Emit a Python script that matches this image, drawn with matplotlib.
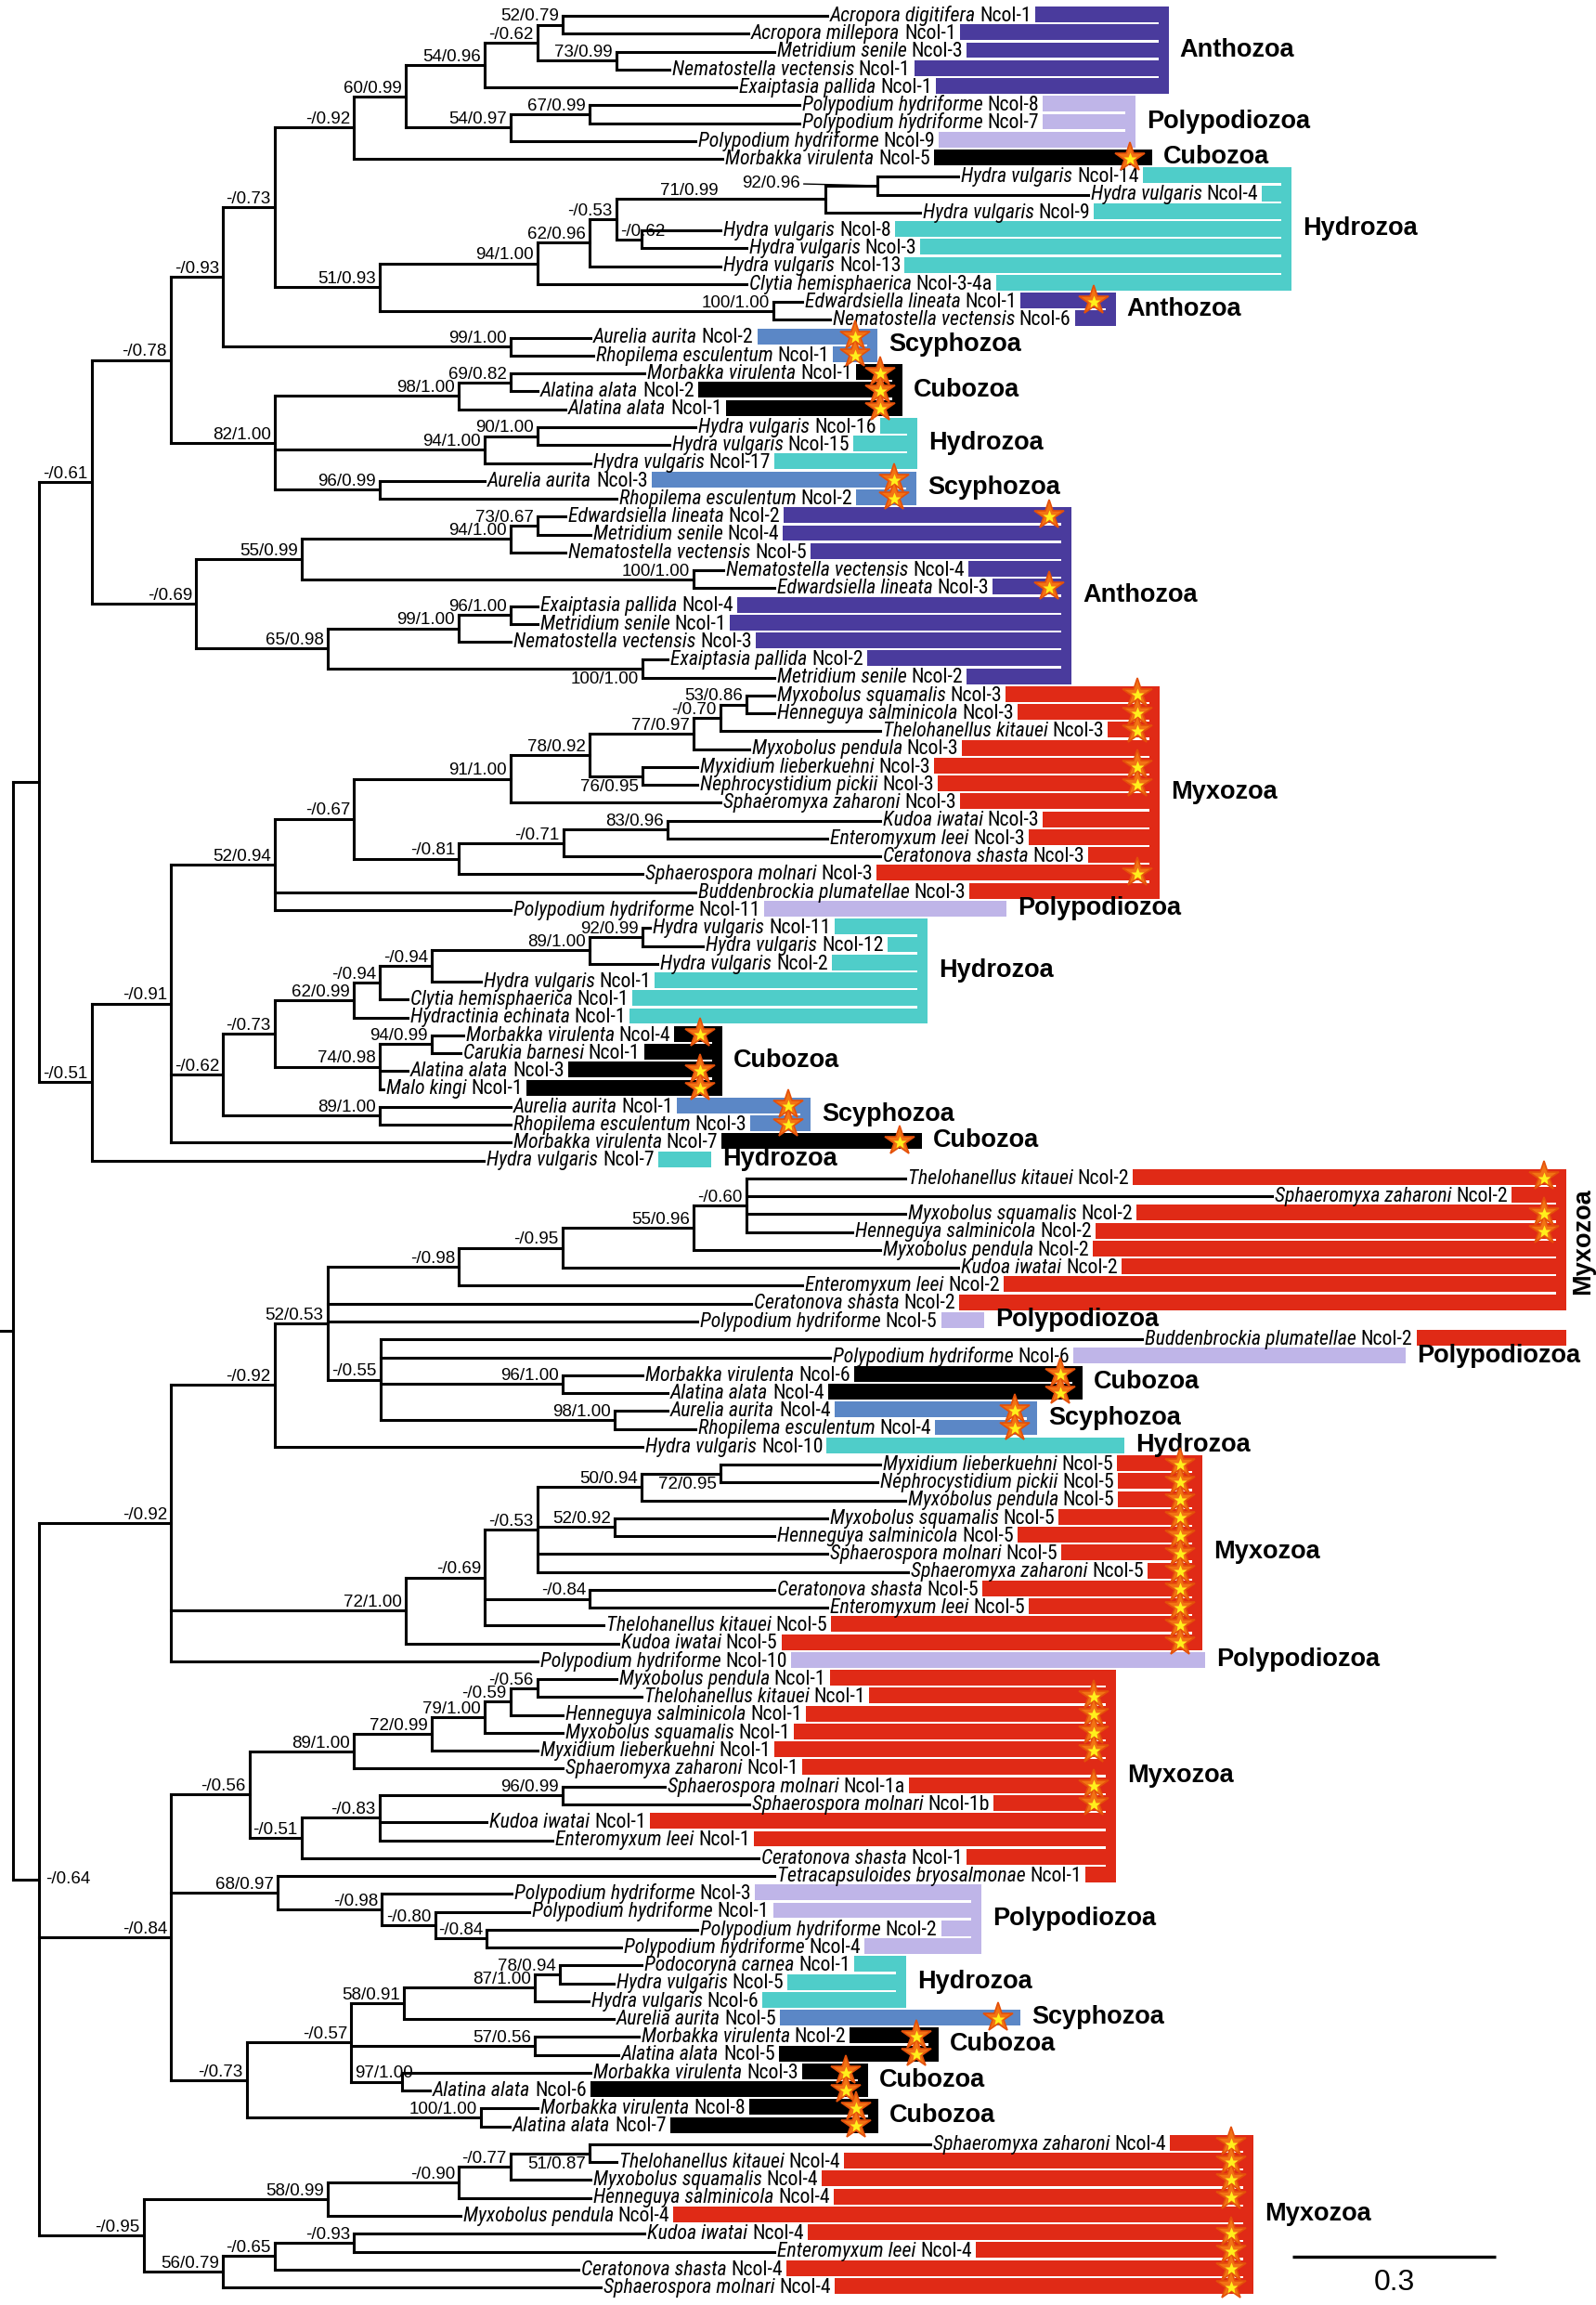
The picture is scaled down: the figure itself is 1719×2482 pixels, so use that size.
import os
import matplotlib
matplotlib.use("Agg")
import matplotlib.pyplot as plt
from matplotlib import font_manager as fm
from matplotlib.collections import LineCollection

# ---------------------------------------------------------------------------
# Ncol gene tree.  Newick pieces: the number after ':' is the distance of that
# node from the root (subst./site); internal labels are
# bootstrap / posterior probability ('-' = bootstrap < 50).
# ---------------------------------------------------------------------------
ANTHOZOA_A = ("(((Acropora digitifera Ncol-1:1.201,Acropora millepora Ncol-1:1.085)52/0.79:0.811,"
              "(Metridium senile Ncol-3:1.123,Nematostella vectensis Ncol-1:0.968)73/0.99:0.890)-/0.62:0.774,"
              "Exaiptasia pallida Ncol-1:1.067)54/0.96:0.696")
POLYPOD_A = ("((Polypodium hydriforme Ncol-8:1.160,Polypodium hydriforme Ncol-7:1.160)67/0.99:0.851,"
             "Polypodium hydriforme Ncol-9:1.007)54/0.97:0.734")
HYDRO_A = ("((((((Hydra vulgaris Ncol-14:1.395,Hydra vulgaris Ncol-4:1.586)92/0.96:1.275,"
           "Hydra vulgaris Ncol-9:1.338)71/0.99:1.199,"
           "(Hydra vulgaris Ncol-8:1.044,Hydra vulgaris Ncol-3:1.082)-/0.62:0.927)-/0.53:0.890,"
           "Hydra vulgaris Ncol-13:1.044)62/0.96:0.851,"
           "Clytia hemisphaerica Ncol-3-4a:1.082)94/1.00:0.774,"
           "(Edwardsiella lineata Ncol-1:1.164,Nematostella vectensis Ncol-6:1.205)100/1.00:1.122)51/0.93:0.541")
SCYPHO_A = "(Aurelia aurita Ncol-2:0.852,Rhopilema esculentum Ncol-1:0.856)99/1.00:0.734"
MIXED_A = ("(((Morbakka virulenta Ncol-1:0.932,Alatina alata Ncol-2:0.774)69/0.82:0.734,"
           "Alatina alata Ncol-1:0.815)98/1.00:0.658,"
           "((Hydra vulgaris Ncol-16:1.007,Hydra vulgaris Ncol-15:0.968)90/1.00:0.774,"
           "Hydra vulgaris Ncol-17:0.852)94/1.00:0.696,"
           "(Aurelia aurita Ncol-3:0.696,Rhopilema esculentum Ncol-2:0.890)96/0.99:0.541)82/1.00:0.386")
ANTHOZOA_B = ("((((Edwardsiella lineata Ncol-2:0.815,Metridium senile Ncol-4:0.852)73/0.67:0.774,"
              "Nematostella vectensis Ncol-5:0.815)94/1.00:0.734,"
              "(Nematostella vectensis Ncol-4:1.048,Edwardsiella lineata Ncol-3:1.123)100/1.00:1.004)55/0.99:0.426,"
              "(((Exaiptasia pallida Ncol-4:0.774,Metridium senile Ncol-1:0.774)96/1.00:0.734,"
              "Nematostella vectensis Ncol-3:0.734)99/1.00:0.658,"
              "(Exaiptasia pallida Ncol-2:0.966,Metridium senile Ncol-2:1.123)100/1.00:0.929)65/0.98:0.464)-/0.69:0.270")
MYXO_A = ("(((((((Myxobolus squamalis Ncol-3:1.123,Henneguya salminicola Ncol-3:1.123)53/0.86:1.082,"
          "Thelohanellus kitauei Ncol-3:1.279)-/0.70:1.044,"
          "Myxobolus pendula Ncol-3:1.086)77/0.97:1.004,"
          "(Myxidium lieberkuehni Ncol-3:1.010,Nephrocystidium pickii Ncol-3:1.010)76/0.95:0.929)78/0.92:0.851,"
          "Sphaeromyxa zaharoni Ncol-3:1.044)91/1.00:0.734,"
          "(((Kudoa iwatai Ncol-3:1.279,Enteromyxum leei Ncol-3:1.201)83/0.96:0.966,"
          "Ceratonova shasta Ncol-3:1.279)-/0.71:0.812,"
          "Sphaerospora molnari Ncol-3:0.929)-/0.81:0.658)-/0.67:0.503,"
          "Buddenbrockia plumatellae Ncol-3:1.007,"
          "Polypodium hydriforme Ncol-11:0.734)52/0.94:0.386")
MEDUSO_A = ("(((((((Hydra vulgaris Ncol-11:0.940,Hydra vulgaris Ncol-12:1.018)92/0.99:0.929,"
            "Hydra vulgaris Ncol-2:0.951)89/1.00:0.851,"
            "Hydra vulgaris Ncol-1:0.690)-/0.94:0.618,"
            "Clytia hemisphaerica Ncol-1:0.582)-/0.94:0.541,"
            "Hydractinia echinata Ncol-1:0.582)62/0.99:0.503,"
            "((Morbakka virulenta Ncol-4:0.664,Carukia barnesi Ncol-1:0.660)94/0.99:0.618,"
            "Alatina alata Ncol-3:0.582,Malo kingi Ncol-1:0.547)74/0.98:0.541)-/0.73:0.386,"
            "(Aurelia aurita Ncol-1:0.734,Rhopilema esculentum Ncol-3:0.734)89/1.00:0.541)-/0.62:0.310")
MYXO_B = ("(((((Thelohanellus kitauei Ncol-2:1.316,Sphaeromyxa zaharoni Ncol-2:1.858,"
          "Myxobolus squamalis Ncol-2:1.316,Henneguya salminicola Ncol-2:1.238)-/0.60:1.082,"
          "Myxobolus pendula Ncol-2:1.279)55/0.96:1.004,"
          "Kudoa iwatai Ncol-2:1.395)-/0.95:0.811,"
          "Enteromyxum leei Ncol-2:1.164)-/0.98:0.658,"
          "Ceratonova shasta Ncol-2:1.089,Polypodium hydriforme Ncol-5:1.010,"
          "(Buddenbrockia plumatellae Ncol-2:1.666,Polypodium hydriforme Ncol-6:1.205,"
          "(Morbakka virulenta Ncol-6:0.929,Alatina alata Ncol-4:0.966)96/1.00:0.811,"
          "(Aurelia aurita Ncol-4:0.966,Rhopilema esculentum Ncol-4:1.007)98/1.00:0.888)-/0.55:0.542)52/0.53:0.464")
MYXO_C = ("(((((Myxidium lieberkuehni Ncol-5:1.279,Nephrocystidium pickii Ncol-5:1.275)72/0.95:1.044,"
          "Myxobolus pendula Ncol-5:1.316)50/0.94:0.927,"
          "(Myxobolus squamalis Ncol-5:1.201,Henneguya salminicola Ncol-5:1.123)52/0.92:0.888,"
          "Sphaerospora molnari Ncol-5:1.201,Sphaeromyxa zaharoni Ncol-5:1.321)-/0.53:0.774,"
          "(Ceratonova shasta Ncol-5:1.123,Enteromyxum leei Ncol-5:1.201)-/0.84:0.851,"
          "Thelohanellus kitauei Ncol-5:0.871)-/0.69:0.696,"
          "Kudoa iwatai Ncol-5:0.893)72/1.00:0.579")
MYXO_D = ("((((((Myxobolus pendula Ncol-1:0.890,Thelohanellus kitauei Ncol-1:0.927)-/0.56:0.774,"
          "Henneguya salminicola Ncol-1:0.811)-/0.59:0.734,"
          "Myxobolus squamalis Ncol-1:0.811)79/1.00:0.696,"
          "Myxidium lieberkuehni Ncol-1:0.774)72/0.99:0.618,"
          "Sphaeromyxa zaharoni Ncol-1:0.811)89/1.00:0.503,"
          "(((Sphaerospora molnari Ncol-1a:0.962,Sphaerospora molnari Ncol-1b:1.086)96/0.99:0.811,"
          "Kudoa iwatai Ncol-1:0.699,Enteromyxum leei Ncol-1:0.796)-/0.83:0.541,"
          "Ceratonova shasta Ncol-1:1.100)-/0.51:0.426)-/0.56:0.349")
POLYPOD_B = ("(Tetracapsuloides bryosalmonae Ncol-1:1.123,"
             "(Polypodium hydriforme Ncol-3:0.736,"
             "(Polypodium hydriforme Ncol-1:0.762,"
             "(Polypodium hydriforme Ncol-2:1.010,Polypodium hydriforme Ncol-4:0.897)-/0.84:0.699)-/0.80:0.623)"
             "-/0.98:0.544)68/0.97:0.390")
MEDUSO_B = ("(((((Podocoryna carnea Ncol-1:0.927,Hydra vulgaris Ncol-5:0.886)78/0.94:0.807,"
            "Hydra vulgaris Ncol-6:0.849)87/1.00:0.770,"
            "Aurelia aurita Ncol-5:0.886)58/0.91:0.577,"
            "(Morbakka virulenta Ncol-2:0.923,Alatina alata Ncol-5:0.893)57/0.56:0.770,"
            "(Morbakka virulenta Ncol-3:0.852,Alatina alata Ncol-6:0.615)97/1.00:0.574)-/0.57:0.499,"
            "(Morbakka virulenta Ncol-8:0.774,Alatina alata Ncol-7:0.733)100/1.00:0.690)-/0.73:0.345")
MYXO_E = ("(((((Sphaeromyxa zaharoni Ncol-4:1.353,Thelohanellus kitauei Ncol-4:0.890)51/0.87:0.851,"
          "Myxobolus squamalis Ncol-4:0.852)-/0.77:0.734,"
          "Henneguya salminicola Ncol-4:0.852)-/0.90:0.658,"
          "Myxobolus pendula Ncol-4:0.660)58/0.99:0.464,"
          "(((Kudoa iwatai Ncol-4:0.932,Enteromyxum leei Ncol-4:1.123)-/0.93:0.503,"
          "Ceratonova shasta Ncol-4:0.834)-/0.65:0.386,"
          "Sphaerospora molnari Ncol-4:0.867)56/0.79:0.310)-/0.95:0.193")
BACKBONE = ("(((((((({anth_a},{poly_a})60/0.99:0.579,Morbakka virulenta Ncol-5:1.047)-/0.92:0.503,"
            "{hydro_a})-/0.73:0.386,{scypho_a})-/0.93:0.310,{mixed_a})-/0.78:0.233,{anth_b})-/0.61:0.116,"
            "(({myxo_a},{meduso_a},Morbakka virulenta Ncol-7:0.734)-/0.91:0.233,"
            "Hydra vulgaris Ncol-7:0.695)-/0.51:0.116):0.038,"
            "((({myxo_b},Hydra vulgaris Ncol-10:0.929)-/0.92:0.386,{myxo_c},"
            "Polypodium hydriforme Ncol-10:0.774)-/0.92:0.233,"
            "({myxo_d},{poly_b},{meduso_b})-/0.84:0.233,{myxo_e})-/0.64:0.038);")
TREE = BACKBONE.format(anth_a=ANTHOZOA_A, poly_a=POLYPOD_A, hydro_a=HYDRO_A, scypho_a=SCYPHO_A,
                       mixed_a=MIXED_A, anth_b=ANTHOZOA_B, myxo_a=MYXO_A, meduso_a=MEDUSO_A,
                       myxo_b=MYXO_B, myxo_c=MYXO_C, myxo_d=MYXO_D, poly_b=POLYPOD_B,
                       meduso_b=MEDUSO_B, myxo_e=MYXO_E)

CLADE_COLOURS = {"Anthozoa": "#4a3b9d", "Polypodiozoa": "#bfb5e8", "Cubozoa": "#000000",
                 "Hydrozoa": "#4fcdc9", "Scyphozoa": "#5b87c6", "Myxozoa": "#e02a16"}

# coloured taxon blocks: first leaf, last leaf, clade
GROUP_FIRST = ["Acropora digitifera Ncol-1", "Polypodium hydriforme Ncol-8", "Morbakka virulenta Ncol-5",
               "Hydra vulgaris Ncol-14", "Edwardsiella lineata Ncol-1", "Aurelia aurita Ncol-2",
               "Morbakka virulenta Ncol-1", "Hydra vulgaris Ncol-16", "Aurelia aurita Ncol-3",
               "Edwardsiella lineata Ncol-2", "Myxobolus squamalis Ncol-3", "Polypodium hydriforme Ncol-11",
               "Hydra vulgaris Ncol-11", "Morbakka virulenta Ncol-4", "Aurelia aurita Ncol-1",
               "Morbakka virulenta Ncol-7", "Hydra vulgaris Ncol-7", "Thelohanellus kitauei Ncol-2",
               "Polypodium hydriforme Ncol-5", "Buddenbrockia plumatellae Ncol-2", "Polypodium hydriforme Ncol-6",
               "Morbakka virulenta Ncol-6", "Aurelia aurita Ncol-4", "Hydra vulgaris Ncol-10",
               "Myxidium lieberkuehni Ncol-5", "Polypodium hydriforme Ncol-10", "Myxobolus pendula Ncol-1",
               "Polypodium hydriforme Ncol-3", "Podocoryna carnea Ncol-1", "Aurelia aurita Ncol-5",
               "Morbakka virulenta Ncol-2", "Morbakka virulenta Ncol-3", "Morbakka virulenta Ncol-8",
               "Sphaeromyxa zaharoni Ncol-4"]
GROUP_LAST = ["Exaiptasia pallida Ncol-1", "Polypodium hydriforme Ncol-9", "Morbakka virulenta Ncol-5",
              "Clytia hemisphaerica Ncol-3-4a", "Nematostella vectensis Ncol-6", "Rhopilema esculentum Ncol-1",
              "Alatina alata Ncol-1", "Hydra vulgaris Ncol-17", "Rhopilema esculentum Ncol-2",
              "Metridium senile Ncol-2", "Buddenbrockia plumatellae Ncol-3", "Polypodium hydriforme Ncol-11",
              "Hydractinia echinata Ncol-1", "Malo kingi Ncol-1", "Rhopilema esculentum Ncol-3",
              "Morbakka virulenta Ncol-7", "Hydra vulgaris Ncol-7", "Ceratonova shasta Ncol-2",
              "Polypodium hydriforme Ncol-5", "Buddenbrockia plumatellae Ncol-2", "Polypodium hydriforme Ncol-6",
              "Alatina alata Ncol-4", "Rhopilema esculentum Ncol-4", "Hydra vulgaris Ncol-10",
              "Kudoa iwatai Ncol-5", "Polypodium hydriforme Ncol-10", "Tetracapsuloides bryosalmonae Ncol-1",
              "Polypodium hydriforme Ncol-4", "Hydra vulgaris Ncol-6", "Aurelia aurita Ncol-5",
              "Alatina alata Ncol-5", "Alatina alata Ncol-6", "Alatina alata Ncol-7",
              "Sphaerospora molnari Ncol-4"]
GROUP_CLADE = ["Anthozoa", "Polypodiozoa", "Cubozoa", "Hydrozoa", "Anthozoa", "Scyphozoa", "Cubozoa",
               "Hydrozoa", "Scyphozoa", "Anthozoa", "Myxozoa", "Polypodiozoa", "Hydrozoa", "Cubozoa",
               "Scyphozoa", "Cubozoa", "Hydrozoa", "Myxozoa", "Polypodiozoa", "Myxozoa", "Polypodiozoa",
               "Cubozoa", "Scyphozoa", "Hydrozoa", "Myxozoa", "Polypodiozoa", "Myxozoa", "Polypodiozoa",
               "Hydrozoa", "Scyphozoa", "Cubozoa", "Cubozoa", "Cubozoa", "Myxozoa"]

# leaves marked with a star
STARRED = ["Morbakka virulenta Ncol-5", "Edwardsiella lineata Ncol-1", "Aurelia aurita Ncol-2",
           "Rhopilema esculentum Ncol-1", "Morbakka virulenta Ncol-1", "Alatina alata Ncol-2",
           "Alatina alata Ncol-1", "Aurelia aurita Ncol-3", "Rhopilema esculentum Ncol-2",
           "Edwardsiella lineata Ncol-2", "Edwardsiella lineata Ncol-3", "Myxobolus squamalis Ncol-3",
           "Henneguya salminicola Ncol-3", "Thelohanellus kitauei Ncol-3", "Myxidium lieberkuehni Ncol-3",
           "Nephrocystidium pickii Ncol-3", "Sphaerospora molnari Ncol-3", "Morbakka virulenta Ncol-4",
           "Alatina alata Ncol-3", "Malo kingi Ncol-1", "Aurelia aurita Ncol-1", "Rhopilema esculentum Ncol-3",
           "Morbakka virulenta Ncol-7", "Thelohanellus kitauei Ncol-2", "Myxobolus squamalis Ncol-2",
           "Henneguya salminicola Ncol-2", "Morbakka virulenta Ncol-6", "Alatina alata Ncol-4",
           "Aurelia aurita Ncol-4", "Rhopilema esculentum Ncol-4", "Myxidium lieberkuehni Ncol-5",
           "Nephrocystidium pickii Ncol-5", "Myxobolus pendula Ncol-5", "Myxobolus squamalis Ncol-5",
           "Henneguya salminicola Ncol-5", "Sphaerospora molnari Ncol-5", "Sphaeromyxa zaharoni Ncol-5",
           "Ceratonova shasta Ncol-5", "Enteromyxum leei Ncol-5", "Thelohanellus kitauei Ncol-5",
           "Kudoa iwatai Ncol-5", "Thelohanellus kitauei Ncol-1", "Henneguya salminicola Ncol-1",
           "Myxobolus squamalis Ncol-1", "Myxidium lieberkuehni Ncol-1", "Sphaerospora molnari Ncol-1a",
           "Sphaerospora molnari Ncol-1b", "Aurelia aurita Ncol-5", "Morbakka virulenta Ncol-2",
           "Alatina alata Ncol-5", "Morbakka virulenta Ncol-3", "Alatina alata Ncol-6",
           "Morbakka virulenta Ncol-8", "Alatina alata Ncol-7", "Sphaeromyxa zaharoni Ncol-4",
           "Thelohanellus kitauei Ncol-4", "Myxobolus squamalis Ncol-4", "Henneguya salminicola Ncol-4",
           "Kudoa iwatai Ncol-4", "Enteromyxum leei Ncol-4", "Ceratonova shasta Ncol-4",
           "Sphaerospora molnari Ncol-4"]
SCALE_BAR = 0.3

# ---- layout (pixels of the 1719x2482 output) -----------------------------
W, H, DPI = 1719, 2482, 100
ROOT_PX, UNIT_PX = 14, 730          # x of the root, pixels per subst./site
TOP_PX, ROW_PX = 17, 19.26          # y of first leaf, leaf spacing
# right end of each coloured block, in tree units
GROUP_EDGE = [1.705, 1.656, 1.681, 1.886, 1.627, 1.275, 1.312, 1.334, 1.333, 1.562, 1.692, 1.466,
              1.349, 1.047, 1.177, 1.341, 1.030, 2.292, 1.433, 2.292, 2.055, 1.578, 1.511, 1.640,
              1.755, 1.759, 1.627, 1.429, 1.318, 1.486, 1.366, 1.262, 1.277, 1.830]
NO_GROUP_LABEL = ["Buddenbrockia plumatellae Ncol-2"]
VERTICAL_GROUP_LABEL = ["Thelohanellus kitauei Ncol-2"]
# support labels not drawn in the default spot, keyed by (label, first leaf below node)
SUPPORT_BELOW = [("100/1.00", "Exaiptasia pallida Ncol-2"), ("76/0.95", "Myxidium lieberkuehni Ncol-3"),
                 ("51/0.87", "Sphaeromyxa zaharoni Ncol-4"), ("72/0.95", "Myxidium lieberkuehni Ncol-5")]
SUPPORT_AT_PARENT = [("-/0.62", "Hydra vulgaris Ncol-8"), ("97/1.00", "Morbakka virulenta Ncol-3")]
SUPPORT_RIGHT = [("-/0.64", "Thelohanellus kitauei Ncol-2")]
SUPPORT_LEADER = [("92/0.96", "Hydra vulgaris Ncol-14")]
SUPPORT_SHIFT = {("71/0.99", "Hydra vulgaris Ncol-14"): -80}
LEAF_LABEL_PX = 216                 # width of "Acropora digitifera Ncol-1" in the figure

SANS = "Liberation Sans"

# a narrow face for the leaf labels (italic species + upright gene name)
_files = {}
for p in fm.findSystemFonts() + [f.fname for f in fm.fontManager.ttflist]:
    _files.setdefault(os.path.splitext(os.path.basename(p))[0].lower(), p)
NARROW_FACES = [("liberationsansnarrow-italic", "liberationsansnarrow-regular"),
                ("robotocondensed-italic", "robotocondensed-regular"),
                ("notosans-condenseditalic", "notosans-condensed"),
                ("dejavusanscondensed-oblique", "dejavusanscondensed")]
FP_IT = fm.FontProperties(family=SANS, style="italic")
FP_UP = fm.FontProperties(family=SANS)
for it, up in NARROW_FACES:
    if it in _files and up in _files:
        FP_IT = fm.FontProperties(fname=_files[it])
        FP_UP = fm.FontProperties(fname=_files[up])
        break


def parse(s):
    pos = 0

    def node():
        nonlocal pos
        kids = []
        if s[pos] == "(":
            pos += 1
            kids.append(node())
            while s[pos] == ",":
                pos += 1
                kids.append(node())
            pos += 1
        start = pos
        while s[pos] not in ",():;":
            pos += 1
        name = s[start:pos].strip()
        depth = 0.0
        if s[pos] == ":":
            pos += 1
            start = pos
            while s[pos] not in ",();":
                pos += 1
            depth = float(s[start:pos])
        return {"name": name, "x": depth, "kids": kids}

    return node()


root = parse(TREE)
leaves, internal = [], []


def place(n, parent=None):
    n["parent"] = parent
    if not n["kids"]:
        n["y"] = len(leaves)
        n["first"] = n["name"]
        leaves.append(n)
    else:
        for k in n["kids"]:
            place(k, n)
        n["y"] = (n["kids"][0]["y"] + n["kids"][-1]["y"]) / 2
        n["first"] = n["kids"][0]["first"]
        internal.append(n)


place(root)
row = {lf["name"]: lf["y"] for lf in leaves}

fig = plt.figure(figsize=(W / DPI, H / DPI), dpi=DPI)
ax = fig.add_axes([0, 0, 1, 1])
ax.set_xlim(-ROOT_PX / UNIT_PX, (W - ROOT_PX) / UNIT_PX)
ax.set_ylim((H - TOP_PX) / ROW_PX, -TOP_PX / ROW_PX)
ax.axis("off")
px = 1 / UNIT_PX
r = fig.canvas.get_renderer()
inv = ax.transData.inverted()


def right_end(t):
    bb = t.get_window_extent(r)
    return inv.transform((bb.x1, bb.y0))[0]


# size the leaf font so label widths match the original
_probe = ax.text(0, 0, "Acropora digitifera Ncol-1", fontproperties=FP_IT, size=10)
LEAF_SIZE = 10 * LEAF_LABEL_PX / _probe.get_window_extent(r).width
_probe.remove()

# ---- branches ----
segs = [[(-ROOT_PX * px, root["y"]), (0, root["y"])]]
for n in internal + leaves:
    if n["parent"] is not None:
        segs.append([(n["parent"]["x"], n["y"]), (n["x"], n["y"])])
    if n["kids"]:
        segs.append([(n["x"], n["kids"][0]["y"]), (n["x"], n["kids"][-1]["y"])])
ax.add_collection(LineCollection(segs, colors="black", linewidths=2.2, capstyle="projecting", zorder=3))

# ---- leaf labels ----
label_end = {}
for lf in leaves:
    sp, num = lf["name"].rsplit(" Ncol", 1)
    y = lf["y"] + 0.3
    t1 = ax.text(lf["x"] + 3 * px, y, sp, fontproperties=FP_IT, size=LEAF_SIZE,
                 ha="left", va="baseline", zorder=4)
    x2 = right_end(t1) + 0.22 * LEAF_SIZE / 72 * DPI * px
    t2 = ax.text(x2, y, "Ncol" + num, fontproperties=FP_UP, size=LEAF_SIZE, ha="left", va="baseline", zorder=4)
    label_end[lf["name"]] = right_end(t2)

# ---- coloured blocks, stars, clade names ----
COL_W = 11 * px
for first, last, clade, edge in zip(GROUP_FIRST, GROUP_LAST, GROUP_CLADE, GROUP_EDGE):
    i0, i1 = row[first], row[last]
    col = CLADE_COLOURS[clade]
    for lf in leaves[i0:i1 + 1]:
        x0 = label_end[lf["name"]] + 4 * px
        ax.barh(lf["y"] - 0.08, max(edge - x0, 0), left=x0, height=0.88, color=col, lw=0, zorder=1)
        if lf["name"] in STARRED:
            ax.plot(edge - 24 * px, lf["y"] - 0.08, marker="*", ms=24, mfc="#f27314", mec="#e4500a",
                    mew=1.2, zorder=5)
            ax.plot(edge - 24 * px, lf["y"] - 0.02, marker="*", ms=10, mfc="#fff01c", mec="none", zorder=6)
    ax.barh((i0 + i1) / 2 - 0.08, COL_W, left=edge - COL_W, height=i1 - i0 + 0.88, color=col, lw=0, zorder=1)
    if first in NO_GROUP_LABEL:
        continue
    if first in VERTICAL_GROUP_LABEL:
        ax.text(edge + 5 * px, (i0 + i1) / 2, clade, family=SANS, weight="bold", size=19.5,
                rotation=90, ha="left", va="center")
    else:
        ax.text(edge + 12 * px, (i0 + i1) / 2 - 0.1, clade, family=SANS, weight="bold", size=19.5,
                ha="left", va="center")

# ---- support values ----
for n in internal:
    if not n["name"]:
        continue
    key = (n["name"], n["first"])
    kw = dict(family=SANS, size=13.5, textcoords="offset points", zorder=4)
    if key in SUPPORT_BELOW:
        ax.annotate(n["name"], (n["x"], n["y"]), xytext=(-3, -2.5), ha="right", va="top", **kw)
    elif key in SUPPORT_AT_PARENT:
        ax.annotate(n["name"], (n["parent"]["x"], n["y"]), xytext=(3, 3), ha="left", va="baseline", **kw)
    elif key in SUPPORT_RIGHT:
        ax.annotate(n["name"], (n["x"], n["y"]), xytext=(5, 0), ha="left", va="center", **kw)
    elif key in SUPPORT_LEADER:
        ax.annotate(n["name"], (n["x"], n["y"]), xytext=(-60, 2), ha="right", va="center",
                    arrowprops=dict(arrowstyle="-", lw=1.0, color="black", shrinkA=1, shrinkB=0), **kw)
    else:
        dx = SUPPORT_SHIFT.get(key, 0)
        ax.annotate(n["name"], (n["x"], n["y"]), xytext=(-3 + dx, 3), ha="right", va="baseline", **kw)

# ---- scale bar ----
sx0 = (1392 - ROOT_PX) * px
sy = (2430 - TOP_PX) / ROW_PX
ax.plot([sx0, sx0 + SCALE_BAR], [sy, sy], color="black", lw=2.4, solid_capstyle="butt")
ax.text(sx0 + SCALE_BAR / 2, (2458 - TOP_PX) / ROW_PX, f"{SCALE_BAR:g}", family=SANS, size=23,
        ha="center", va="center")

fig.savefig("out.png", dpi=DPI)
